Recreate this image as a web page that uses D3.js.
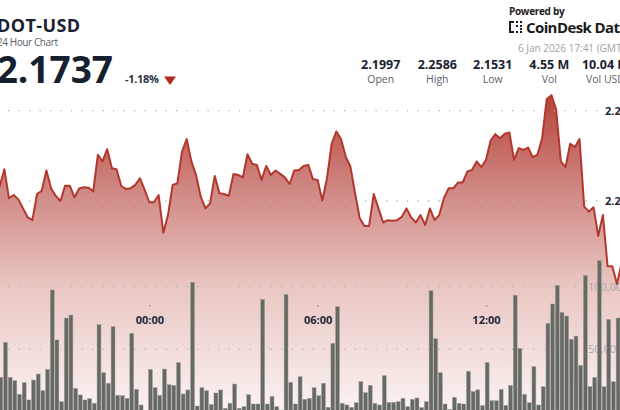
<!DOCTYPE html>
<html><head><meta charset="utf-8">
<script src="https://cdn.jsdelivr.net/npm/d3@7"></script>
<style>
html,body{margin:0;padding:0;background:#fff;overflow:hidden;}
svg{display:block;font-family:"Open Sans",sans-serif;}
</style></head>
<body>
<svg id="c" width="620" height="410"></svg>
<script>
// ---- data (10-minute intervals starting 5 Jan 18:40) ----
const startTime = new Date(2026, 0, 5, 18, 40);
const stepMinutes = 10;
const prices = [
2.2080,2.2176,2.2015,2.2033,2.2009,2.1959,2.1909,2.1894,2.2039,2.2057,
2.2169,2.2070,2.2028,2.2000,2.2085,2.2085,2.2020,2.2069,2.2076,2.2074,
2.2052,2.2256,2.2219,2.2287,2.2181,2.2176,2.2083,2.2067,2.2070,2.2089,
2.2126,2.2061,2.1993,2.1993,2.2033,2.1824,2.1922,2.2089,2.2098,2.2274,
2.2343,2.2219,2.2144,2.2024,2.1959,2.1987,2.2139,2.2043,2.2039,2.2028,
2.2150,2.2144,2.2131,2.2259,2.2206,2.2200,2.2117,2.2194,2.2144,2.2169,
2.2150,2.2131,2.2094,2.2169,2.2172,2.2194,2.2200,2.2120,2.2117,2.2002,
2.2126,2.2317,2.2385,2.2343,2.2246,2.2191,2.2043,2.1904,2.1861,2.1861,
2.2039,2.1959,2.1881,2.1894,2.1891,2.1894,2.1913,2.1959,2.1909,2.1881,
2.1922,2.1867,2.1959,2.1894,2.1922,2.2015,2.2070,2.2070,2.2102,2.2102,
2.2163,2.2172,2.2219,2.2187,2.2228,2.2335,2.2370,2.2348,2.2372,2.2380,
2.2228,2.2293,2.2283,2.2296,2.2243,2.2256,2.2348,2.2565,2.2586,2.2506,
2.2219,2.2187,2.2317,2.2298,2.2343,2.1969,2.1941,2.1965,2.1807,2.1922,
2.1639,2.1639,2.1540,2.1654];
const volumes = [
27700,55600,27700,25000,14100,23400,9600,25500,30300,17000,
34000,97400,57500,8200,75000,77400,18900,13600,9600,10600,
6900,69700,31400,22900,68100,13300,13000,10900,62800,18100,
5600,0,34000,19400,13300,34300,21800,21300,39400,14400,
17600,103500,4800,19400,17000,6100,15200,17600,2900,6900,
22300,2900,4300,13800,6400,6400,89900,6400,12500,4300,
1600,93900,23700,6400,28200,10100,10900,19400,13000,22900,
3700,54800,84000,6900,5600,3700,7400,24200,15400,21300,
6900,5600,29000,7700,7700,8200,10900,4300,10100,11200,
3500,8200,96800,58500,31400,6400,2100,11700,6900,6400,
32500,16400,17700,5100,39400,9000,9000,18100,5300,21300,
93200,50800,14100,7400,36200,5600,20200,70800,86200,101000,
79500,76600,58000,60600,37200,109000,20200,27700,120800,20200,
73900,24200,75000,71300];
const timeTicks = [new Date(2026,0,6,0,0), new Date(2026,0,6,6,0), new Date(2026,0,6,12,0)];
const priceTicks = [2.20, 2.25];
const volumeTicks = [50000, 100000];
const statValues = ["2.1997","2.2586","2.1531","4.55 M","10.04 M"];
const statLabels = ["Open","High","Low","Vol","Vol USD"];
const title = "DOT-USD";
const subtitle = "24 Hour Chart";
const lastPrice = "2.1737";
const change = "-1.18%";
const stamp = "6 Jan 2026 17:41 (GMT)";

const data = prices.map((p,i)=>({t:new Date(startTime.getTime()+i*stepMinutes*60000), p, v:volumes[i]}));

const svg = d3.select("#c");
const x = d3.scaleTime().domain([timeTicks[0], timeTicks[2]]).range([149.3, 486]);
const y = d3.scaleLinear().domain([2.20, 2.25]).range([201, 110.7]);
const yv = d3.scaleLinear().domain([0, 100000]).range([412, 286.7]);

// gradient
const defs = svg.append("defs");
const g = defs.append("linearGradient").attr("id","ag").attr("gradientUnits","userSpaceOnUse")
  .attr("x1",0).attr("x2",0).attr("y1",95).attr("y2",412);
[[0,"#b5443b"],[0.3,"#d08883"],[0.6,"#e9c6c2"],[1,"#fbf3f2"]].forEach(s=>g.append("stop").attr("offset",s[0]).attr("stop-color",s[1]));

// area
const area = d3.area().x(d=>x(d.t)).y0(412).y1(d=>y(d.p));
svg.append("path").datum(data).attr("d",area).attr("fill","url(#ag)");

// grid lines
const gridG = svg.append("g");
priceTicks.forEach(v=>{
  gridG.append("line").attr("x1",8).attr("x2",600).attr("y1",y(v)).attr("y2",y(v))
    .attr("stroke","#b4b4b4").attr("stroke-width",1.3).attr("stroke-dasharray","1.3 9.2");
});
volumeTicks.forEach(v=>{
  gridG.append("line").attr("x1",8).attr("x2",583).attr("y1",yv(v)).attr("y2",yv(v))
    .attr("stroke","#b4b4b4").attr("stroke-width",1.3).attr("stroke-dasharray","1.3 9.2");
});

// volume axis labels
const vAxis = d3.axisRight(yv).tickValues(volumeTicks).tickFormat(d3.format(",")).tickSize(0).tickPadding(0);
const vg = svg.append("g").attr("transform","translate(588,0)").call(vAxis);
vg.select(".domain").remove();
vg.selectAll("text").attr("fill","#a9a9a9").attr("font-size",11).attr("font-family","Open Sans");

// bars
svg.append("g").selectAll("rect").data(data.filter(d=>d.v>0)).join("rect")
  .attr("x",d=>x(d.t)-0.8).attr("width",3.9)
  .attr("y",d=>yv(d.v)).attr("height",d=>412-yv(d.v))
  .attr("fill","#676963").attr("stroke","#9fa19b").attr("stroke-width",0.5);

// line
const line = d3.line().x(d=>x(d.t)).y(d=>y(d.p));
svg.append("path").datum(data).attr("d",line).attr("fill","none")
  .attr("stroke","#b3372c").attr("stroke-width",2).attr("stroke-linejoin","round");

// price axis labels
const pAxis = d3.axisRight(y).tickValues(priceTicks).tickFormat(d3.format(".2f")).tickSize(0).tickPadding(0);
const pg = svg.append("g").attr("transform","translate(605,0)").call(pAxis);
pg.select(".domain").remove();
pg.selectAll("text").attr("fill","#232a3a").attr("font-size",11).attr("font-weight","bold").attr("font-family","Open Sans");

// time axis
const tAxis = d3.axisBottom(x).tickValues(timeTicks).tickFormat(d3.timeFormat("%H:%M")).tickSize(0).tickPadding(0);
const tg = svg.append("g").attr("transform","translate(0,316)").call(tAxis);
tg.select(".domain").remove();
tg.selectAll("text").attr("fill","#232a3a").attr("font-size",11).attr("font-weight","bold").attr("font-family","Open Sans");
tg.selectAll(".tick").append("circle").attr("cx",0).attr("cy",-10.3).attr("r",0.8).attr("fill","#8a8a8a");

// header left
svg.append("text").attr("x",-3).attr("y",31.5).attr("font-size",18).attr("font-weight","bold").attr("fill","#1b2130").attr("textLength",83).text(title);
svg.append("text").attr("x",-3).attr("y",45.5).attr("font-size",10).attr("fill","#5a5f69").attr("textLength",61).text(subtitle);
svg.append("text").attr("x",113).attr("y",83).attr("text-anchor","end").attr("font-size",37).attr("font-weight","bold").attr("fill","#17202f").text(lastPrice);
svg.append("text").attr("x",125).attr("y",82.5).attr("font-size",11).attr("font-weight","bold").attr("fill","#2b3140").attr("letter-spacing",-0.3).text(change);
svg.append("path").attr("d","M164,76.5 L176,76.5 L170,85 Z").attr("fill","#b3291d");

// header right
svg.append("text").attr("x",509).attr("y",14.5).attr("font-size",10).attr("font-weight","bold").attr("fill","#222").attr("letter-spacing",-0.3).text("Powered by");
const logo = svg.append("g").attr("fill","#1b1b1b");
[[509,21,2,12],[509,21,5,2],[509,31,5,2],[516,21,2,2],[520,21,2,2],[516,25,2,2],[520,25,2,2],[516,31,2,2],[520,31,2,2],[520,28,2,2]].forEach(r=>
  logo.append("rect").attr("x",r[0]).attr("y",r[1]).attr("width",r[2]).attr("height",r[3]));
svg.append("text").attr("x",526).attr("y",33).attr("font-size",15).attr("font-weight","bold").attr("fill","#1b1b1b").attr("letter-spacing",-0.6).text("CoinDesk Data");
svg.append("text").attr("x",518).attr("y",52).attr("font-size",10.2).attr("fill","#a3a3a3").attr("letter-spacing",-0.1).text(stamp);

const statX = [380.7, 437.3, 492.7, 549.3, 605.5];
statValues.forEach((s,i)=>{
  svg.append("text").attr("x",statX[i]).attr("y",69).attr("text-anchor","middle").attr("font-size",12.5).attr("font-weight","bold").attr("fill","#1b2130").text(s);
  svg.append("text").attr("x",statX[i]).attr("y",83).attr("text-anchor","middle").attr("font-size",10.5).attr("fill","#5a5f69").text(statLabels[i]);
});
</script>
</body></html>
